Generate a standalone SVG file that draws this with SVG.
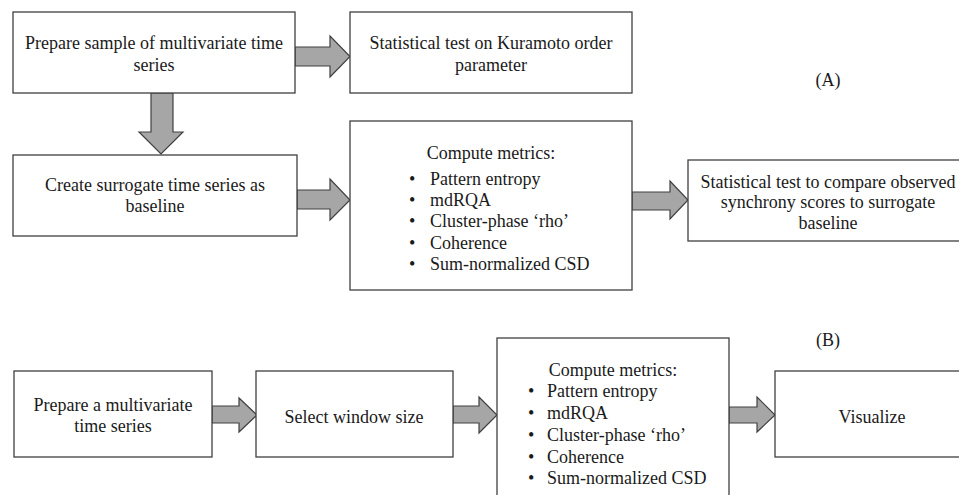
<svg xmlns="http://www.w3.org/2000/svg" width="959" height="495" viewBox="0 0 959 495">
<style>
.box{fill:#fff;stroke:#404040;stroke-width:1.3}
.arr{fill:#a6a6a6;stroke:#404040;stroke-width:1.2;stroke-linejoin:miter}
text{font-family:"Liberation Serif","Times New Roman",serif;font-size:18px;fill:#1a1a1a}
.c{text-anchor:middle}
</style>
<rect width="959" height="495" fill="#fff"/>
<g id="connectors">
<polygon class="arr" points="295,47 330,47 330,36 350,56.5 330,77 330,66 295,66"/>
<polygon class="arr" points="151,93 173,93 173,132 183,132 161,154 139,132 151,132"/>
<polygon class="arr" points="297,190 330,190 330,179 350,200 330,220 330,209 297,209"/>
<polygon class="arr" points="632,192 670,192 670,181 688,200 670,219 670,210 632,210"/>
<polygon class="arr" points="212,406 239,406 239,398 257,415 239,432 239,423 212,423"/>
<polygon class="arr" points="453,406 479,406 479,397 497,415 479,433 479,423 453,423"/>
<polygon class="arr" points="729,407 757,407 757,397 775,415 757,432 757,423 729,423"/>
</g>
<g id="a1">
<rect class="box" x="13" y="12" width="282" height="81"/>
<text class="c" x="154" y="49">Prepare sample of multivariate time</text>
<text class="c" x="154" y="71">series</text>
</g>
<g id="a2">
<rect class="box" x="350" y="12" width="282" height="81"/>
<text class="c" x="491" y="49">Statistical test on Kuramoto order</text>
<text class="c" x="491" y="71">parameter</text>
</g>
<g id="labelA"><text class="c" x="828" y="86">(A)</text></g>
<g id="a3">
<rect class="box" x="13" y="155" width="284" height="81"/>
<text class="c" x="155" y="191">Create surrogate time series as</text>
<text class="c" x="155" y="212">baseline</text>
</g>
<g id="a4">
<rect class="box" x="350" y="121" width="282" height="169"/>
<text class="c" x="491" y="159">Compute metrics:</text>
<text x="409" y="185">•</text><text x="430" y="185">Pattern entropy</text>
<text x="409" y="206">•</text><text x="430" y="206">mdRQA</text>
<text x="409" y="227">•</text><text x="430" y="227">Cluster-phase ‘rho’</text>
<text x="409" y="249">•</text><text x="430" y="249">Coherence</text>
<text x="409" y="270">•</text><text x="430" y="270">Sum-normalized CSD</text>
</g>
<g id="a5">
<rect class="box" x="688" y="160" width="280" height="81"/>
<text class="c" x="828" y="188">Statistical test to compare observed</text>
<text class="c" x="828" y="208">synchrony scores to surrogate</text>
<text class="c" x="828" y="229">baseline</text>
</g>
<g id="labelB"><text class="c" x="828" y="346">(B)</text></g>
<g id="b1">
<rect class="box" x="14" y="371" width="198" height="86"/>
<text class="c" x="113" y="411">Prepare a multivariate</text>
<text class="c" x="113" y="432">time series</text>
</g>
<g id="b2">
<rect class="box" x="256" y="371" width="197" height="86"/>
<text class="c" x="354" y="423">Select window size</text>
</g>
<g id="b3">
<rect class="box" x="497" y="338" width="232" height="170"/>
<text class="c" x="613" y="376">Compute metrics:</text>
<text x="528" y="397">•</text><text x="547" y="397">Pattern entropy</text>
<text x="528" y="419">•</text><text x="547" y="419">mdRQA</text>
<text x="528" y="441">•</text><text x="547" y="441">Cluster-phase ‘rho’</text>
<text x="528" y="463">•</text><text x="547" y="463">Coherence</text>
<text x="528" y="484">•</text><text x="547" y="484">Sum-normalized CSD</text>
</g>
<g id="b4">
<rect class="box" x="775" y="371" width="193" height="86"/>
<text class="c" x="872" y="423">Visualize</text>
</g>
</svg>
